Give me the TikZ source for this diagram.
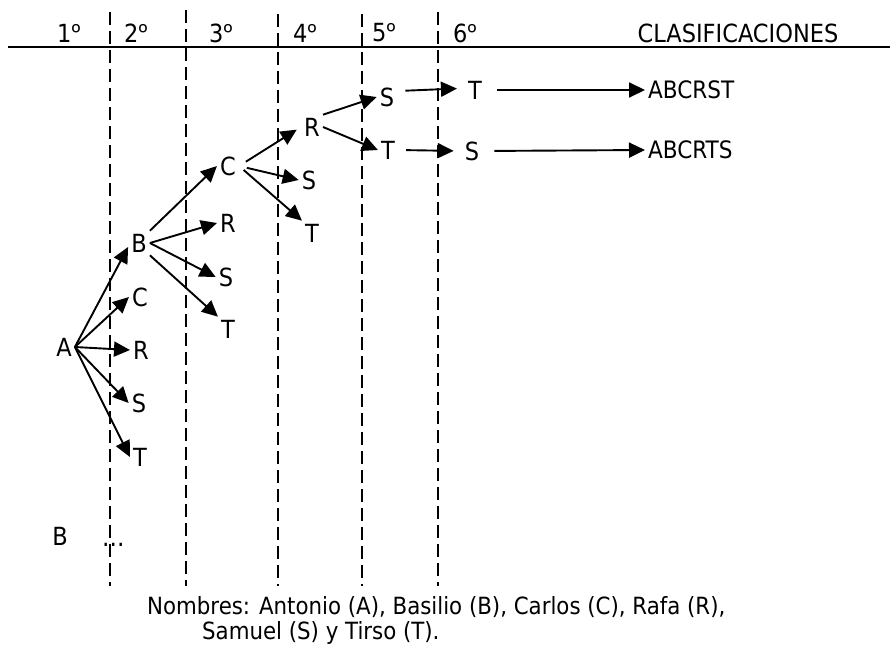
\documentclass[tikz,border=0pt]{standalone}
\usepackage{fontspec}
\setmainfont{DejaVu Sans Condensed}
\newfontfamily\ordfont{Noto Sans}
\newcommand{\ordo}{{\ordfont º}}
\usetikzlibrary{arrows.meta}
\begin{document}
\begin{tikzpicture}[x=1pt,y=-1pt,
  lt/.style={font=\fontsize{25}{28}\selectfont, inner sep=3pt},
  hd/.style={font=\fontsize{25}{28}\selectfont, inner sep=0pt},
  names/.style={font=\fontsize{23.7}{27}\selectfont, inner sep=0pt, anchor=west},
  arr/.style={line width=1.9pt, -{Triangle[length=16pt,width=15pt]}},
  col/.style={line width=1.7pt, dash pattern=on 13pt off 6pt}]
\useasboundingbox (0,0) rectangle (890,648);

% header rule and column separators
\draw[line width=2pt] (8,47) -- (890,47);
\foreach \x/\t in {110/12,186/10,278/14,362/14,438/12}
  \draw[col] (\x,\t) -- (\x,586);

% column headings
\node[hd] (h1) at (69,33) {1\ordo};
\node[hd] (h2) at (136,33) {2\ordo};
\node[hd] (h3) at (221,33) {3\ordo};
\node[hd] (h4) at (305,33) {4\ordo};
\node[hd] (h5) at (384,33) {5\ordo};
\node[hd] (h6) at (465,33) {6\ordo};
\node[hd] (hc) at (738,33) {CLASIFICACIONES};

% tree nodes
\node[lt] (A)  at (64,347)  {A};
\node[lt] (b2) at (139,243) {B};
\node[lt] (c2) at (140,297) {C};
\node[lt] (r2) at (141,350) {R};
\node[lt] (s2) at (139,403) {S};
\node[lt] (t2) at (140,457) {T};
\node[lt] (c3) at (228,166) {C};
\node[lt] (r3) at (228,223) {R};
\node[lt] (s3) at (226,277) {S};
\node[lt] (t3) at (228,329) {T};
\node[lt] (r4) at (312,127) {R};
\node[lt] (s4) at (309,180) {S};
\node[lt] (t4) at (312,233) {T};
\node[lt] (s5) at (387,97)  {S};
\node[lt] (t5) at (388,150) {T};
\node[lt] (t6) at (475,90)  {T};
\node[lt] (s6) at (472,151) {S};
\node[lt,font=\fontsize{24}{27}\selectfont,anchor=west] (k1) at (645,90)  {ABCRST};
\node[lt,font=\fontsize{24}{27}\selectfont,anchor=west] (k2) at (645,150) {ABCRTS};

% branches
\draw[arr] (A.east) -- (b2.200);
\draw[arr] (A.east) -- (c2.west);
\draw[arr] (A.east) -- (r2.west);
\draw[arr] (A.east) -- (s2.west);
\draw[arr] (A.east) -- (t2.west);
\draw[arr] (b2.north east) -- (c3.west);
\draw[arr] (b2.east) -- (r3.west);
\draw[arr] (b2.east) -- (s3.west);
\draw[arr] (b2.south east) -- (t3.north west);
\draw[arr, shorten <=8pt, shorten >=5pt] (c3.east) -- (r4.west);
\draw[arr, shorten <=8pt] (c3.east) -- (s4.west);
\draw[arr, shorten <=6pt] (c3.east) -- (t4.north west);
\draw[arr] (r4.north east) -- (s5.west);
\draw[arr] (r4.east) -- (t5.west);
\draw[arr, shorten <=8pt, shorten >=8pt] (s5.30) -- (t6.170);
\draw[arr, shorten <=8pt, shorten >=8pt] (t5.east) -- (s6.west);
\draw[arr, shorten <=12pt] (t6.east) -- (k1.west);
\draw[arr, shorten <=12pt] (s6.east) -- (k2.west);

% remaining branch, left unfinished
\node[lt] (bb) at (60,536) {B};
\node[font=\fontsize{26}{28}\selectfont, inner sep=0pt, anchor=base west] (dots) at (102,546) {...};

% names
\node[names] (n1) at (147,607) {Nombres: Antonio (A), Basilio (B), Carlos (C), Rafa (R),};
\node[names] (n2) at (202,633) {Samuel (S) y Tirso (T).};
\end{tikzpicture}
\end{document}
